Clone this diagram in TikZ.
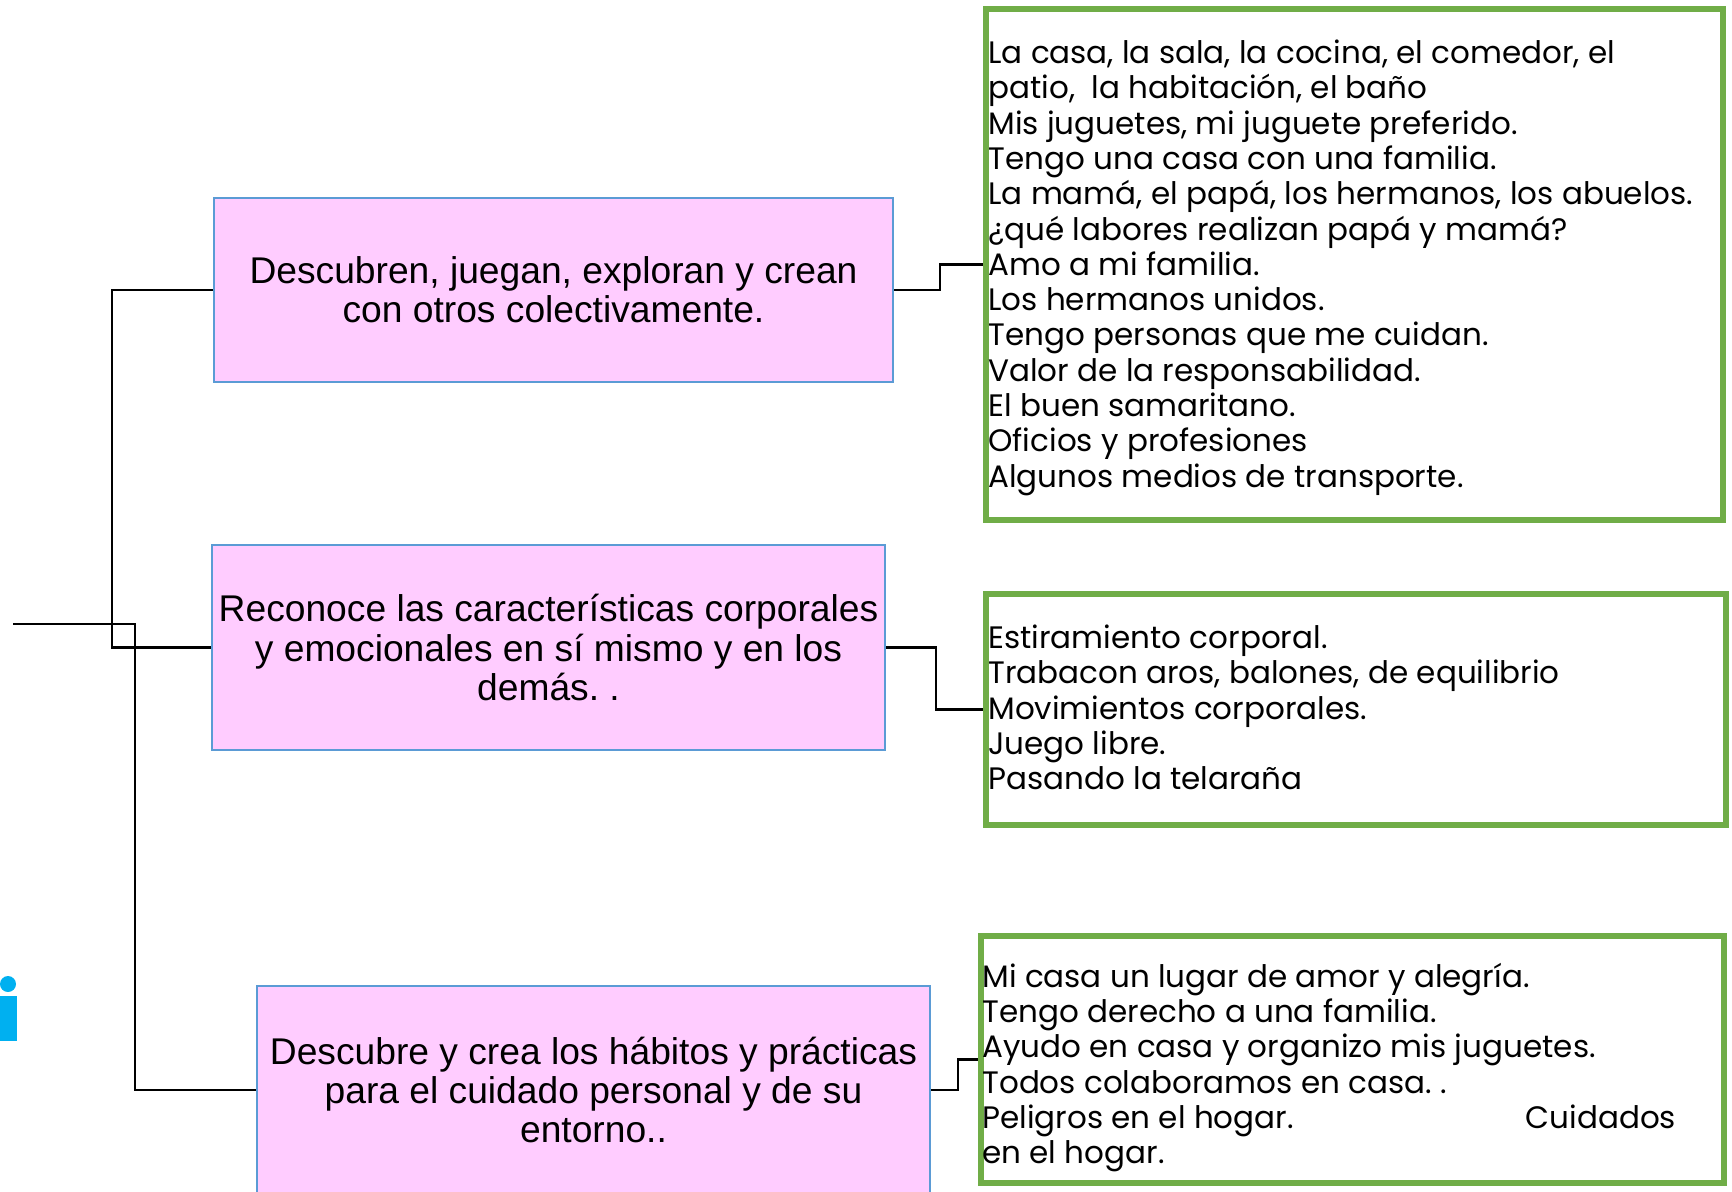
\documentclass[tikz,border=0pt]{standalone}
\usepackage{fontspec}
\setmainfont{Liberation Sans}
\newfontfamily\gothic{Poppins}
\frenchspacing
\definecolor{pinkfill}{HTML}{FFCCFF}
\definecolor{blueedge}{HTML}{5B9BD5}
\definecolor{greenedge}{HTML}{70AD47}
\definecolor{cyanmark}{HTML}{00B0F0}
\begin{document}
\begin{tikzpicture}[x=0.5pt,y=-0.5pt,
  pinkbox/.style={draw=blueedge,line width=1pt,fill=pinkfill,inner sep=0pt,align=center,
    font=\fontsize{18.6pt}{19.6pt}\selectfont},
  greenbox/.style={draw=greenedge,line width=2.6pt,inner sep=0pt},
  listtext/.style={anchor=north west,inner sep=0pt,align=left,
    font=\gothic\fontsize{15.5pt}{17.65pt}\selectfont},
  link/.style={draw=black,line width=1.3pt}]
\useasboundingbox (0,0) rectangle (1732,1191);
% pink boxes
\node[pinkbox,minimum width=339.5pt,minimum height=92pt] (A) at (553.5,290)
  {Descubren, juegan, exploran y crean\\con otros colectivamente.};
\node[pinkbox,minimum width=336.5pt,minimum height=102.5pt] (B) at (548.5,647.5)
  {Reconoce las características corporales\\y emocionales en sí mismo y en los\\demás. .};
\node[pinkbox,minimum width=336.5pt,minimum height=104pt] (C) at (593.5,1090)
  {Descubre y crea los hábitos y prácticas\\para el cuidado personal y de su\\entorno..};
% green boxes
\node[greenbox,minimum width=368.5pt,minimum height=255.5pt] (g1) at (1354.5,264.5) {};
\node[greenbox,minimum width=370pt,minimum height=115.5pt] (g2) at (1356,709.5) {};
\node[greenbox,minimum width=371.5pt,minimum height=123.5pt] (g3) at (1352.5,1059.5) {};
% list texts
\node[listtext] (t1) at (988,39.5) {La casa, la sala, la cocina, el comedor, el\\
patio,\ \ la habitación, el baño\\
Mis juguetes, mi juguete preferido.\\
Tengo una casa con una familia.\\
La mamá, el papá, los hermanos, los abuelos.\\
¿qué labores realizan papá y mamá?\\
Amo a mi familia.\\
Los hermanos unidos.\\
Tengo personas que me cuidan.\\
Valor de la responsabilidad.\\
El buen samaritano.\\
Oficios y profesiones\\
Algunos medios de transporte.};
\node[listtext] (t2) at (988,624.5) {Estiramiento corporal.\\
Trabacon aros, balones, de equilibrio\\
Movimientos corporales.\\
Juego libre.\\
Pasando la telaraña};
\node[listtext] (t3) at (982,962.5) {Mi casa un lugar de amor y alegría.\\
Tengo derecho a una familia.\\
Ayudo en casa y organizo mis juguetes.\\
Todos colaboramos en casa. .\\
Peligros en el hogar.\hspace{116pt}Cuidados\\
en el hogar.};
% connectors
\coordinate (root) at (13,624);
\draw[link] (root) -- ++(122,0) |- (C.west);
\draw[link] (A.west) -- ++(-101,0) |- (B.west);
\draw[link] (A.east) -- ++(46,0) |- (g1.west);
\draw[link] (B.east) -- ++(50,0) |- (g2.west);
\draw[link] (C.east) -- ++(27,0) |- (g3.west);
% cyan mark at left edge
\fill[cyanmark] (8,984) circle (4pt);
\fill[cyanmark] (0,996) rectangle (17,1041);
\end{tikzpicture}
\end{document}
